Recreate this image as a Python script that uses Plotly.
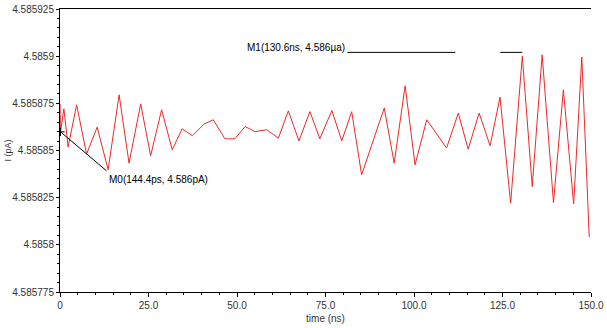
import plotly.graph_objects as go

# time (ns)
time_ns = [0, 0.1444, 1.1, 2.3, 4.7, 7.5, 10.5, 13.6, 16.7, 19.5, 22.8, 25.6, 28.7, 31.7,
           34.5, 37.4, 40.7, 43.3, 46.6, 49.4, 52.3, 55.1, 58.4, 61.7, 64.5, 67.5, 70.6,
           73.4, 76.8, 79.6, 82.4, 85.2, 91.6, 94.4, 97.5, 100.3, 103.6, 109.2, 112.5,
           115.3, 118.4, 121.5, 124.3, 127.3, 130.6, 133.4, 136.2, 139.4, 142.2, 145.1,
           147.4, 149.5]
# current offsets from 4.5858 in units of 1e-6
offset_e6 = [74.7, 59.9, 72.1, 51.9, 74.2, 48.1, 62.4, 39.8, 79.5, 43.3, 74.7, 47.2, 71.6,
             50.4, 61.5, 57.8, 64.0, 66.3, 56.2, 56.2, 62.7, 60.0, 61.0, 56.6, 71.0, 55.1,
             70.6, 56.2, 71.2, 55.1, 70.6, 37.1, 72.5, 43.3, 84.3, 42.4, 66.3, 51.3, 69.8,
             50.7, 69.8, 52.5, 78.3, 22.1, 100.0, 30.9, 100.7, 22.4, 82.2, 21.7, 99.5, 4.1]
current = [4.5858 + v * 1e-6 for v in offset_e6]

y_tickvals = [4.585775, 4.5858, 4.585825, 4.58585, 4.585875, 4.5859, 4.585925]
y_ticktext = ["4.585775", "4.5858", "4.585825", "4.58585", "4.585875", "4.5859", "4.585925"]
x_tickvals = [0, 25, 50, 75, 100, 125, 150]
x_ticktext = ["0", "25.0", "50.0", "75.0", "100.0", "125.0", "150.0"]

m0_x, m0_y, m0_text = 0.1444, 4.5858 + 59.9e-6, "M0(144.4ps, 4.586pA)"
m1_x, m1_y, m1_text = 130.6, 4.5858 + 102.0e-6, "M1(130.6ns, 4.586µa)"

font = dict(family="Liberation Sans, Arial, sans-serif", size=10, color="#333333")

fig = go.Figure()
fig.add_trace(go.Scatter(x=time_ns, y=current, mode="lines",
                         line=dict(color="rgb(238,40,40)", width=1),
                         hoverinfo="skip", showlegend=False))
# M0 marker cross
fig.add_trace(go.Scatter(x=[m0_x], y=[m0_y], mode="markers",
                         marker=dict(symbol="cross-thin", size=6,
                                     line=dict(color="black", width=1)),
                         showlegend=False, hoverinfo="skip"))

fig.update_layout(
    width=607, height=328,
    margin=dict(l=60, r=16, t=9, b=36),
    paper_bgcolor="white", plot_bgcolor="white",
    font=font,
    showlegend=False,
    xaxis=dict(range=[0, 150], tickvals=x_tickvals, ticktext=x_ticktext, automargin=False,
               showgrid=False, zeroline=False, showline=True, linecolor="black",
               linewidth=1, mirror=True, ticks="outside", ticklen=4, tickcolor="black",
               minor=dict(dtick=5, ticks="outside", ticklen=2, tickcolor="black"),
               title=dict(text="time (ns)", font=dict(size=10, color="#333333"), standoff=4)),
    yaxis=dict(range=[4.585775, 4.585925], tickvals=y_tickvals, ticktext=y_ticktext,
               automargin=False,
               showgrid=False, zeroline=False, showline=True, linecolor="black",
               linewidth=1, ticks="outside", ticklen=3, tickcolor="black",
               minor=dict(tick0=4.585775, dtick=0.000005, ticks="outside", ticklen=2,
                          tickcolor="black"),
               tickfont=dict(size=10)),
)

# y-axis title placed at the far left edge
fig.add_annotation(x=0, y=0.5, xref="paper", yref="paper", xshift=-53, text="I (pA)",
                   textangle=-90, showarrow=False, xanchor="center", yanchor="middle",
                   font=dict(size=9, color="#333333"))

# M0 leader line and label
fig.add_shape(type="line", xref="x", yref="y", xsizemode="pixel", ysizemode="pixel",
              xanchor=m0_x, yanchor=m0_y, x0=0, y0=0, x1=46, y1=-39,
              line=dict(color="black", width=1))
fig.add_annotation(x=m0_x, y=m0_y, xref="x", yref="y", text=m0_text, showarrow=False,
                   xanchor="left", yanchor="middle", xshift=46, yshift=-48,
                   font=dict(size=10, color="black"))

# M1 leader line (two segments) and label
fig.add_shape(type="line", xref="x", yref="y", xsizemode="pixel", ysizemode="pixel",
              xanchor=m1_x, yanchor=m1_y, x0=-175, y0=0, x1=-67, y1=0,
              line=dict(color="black", width=1))
fig.add_shape(type="line", xref="x", yref="y", xsizemode="pixel", ysizemode="pixel",
              xanchor=m1_x, yanchor=m1_y, x0=-22, y0=0, x1=0, y1=0,
              line=dict(color="black", width=1))
fig.add_annotation(x=m1_x, y=m1_y, xref="x", yref="y", text=m1_text, showarrow=False,
                   xanchor="right", yanchor="middle", xshift=-175, yshift=5,
                   font=dict(size=10, color="black"))

fig.write_html("out.html")
